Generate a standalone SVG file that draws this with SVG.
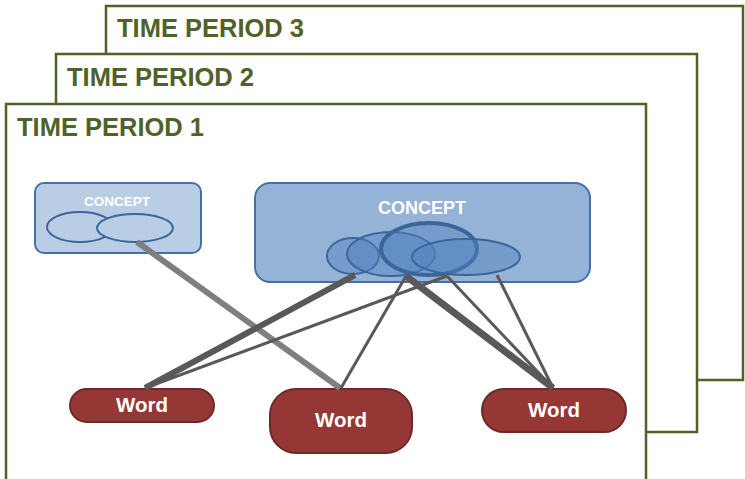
<svg xmlns="http://www.w3.org/2000/svg" width="745" height="479" viewBox="0 0 745 479">
<style>
.frame{fill:#ffffff;stroke:#4f6228;stroke-width:2.5}
.ftxt{font-family:"Liberation Sans",Arial,sans-serif;font-weight:bold;font-size:25.5px;fill:#4f6228}
.cbox{stroke:#4470a6;stroke-width:2}
.ell{fill:#4f81bd;fill-opacity:0.45;stroke:#3c6699;stroke-width:2}
.ell2{fill:#b9cde5;stroke:#3c6699;stroke-width:2}
.ctxt{font-family:"Liberation Sans",Arial,sans-serif;font-weight:bold;fill:#ffffff;text-anchor:middle}
.word{fill:#953735;stroke:#6e2a28;stroke-width:2}
.wtxt{font-family:"Liberation Sans",Arial,sans-serif;font-weight:bold;font-size:20.5px;fill:#ffffff;text-anchor:middle}
.ln{stroke:#595959;stroke-linecap:butt;fill:none}
</style>
<g id="period3">
<rect class="frame" x="106" y="6" width="637" height="374"/>
<text class="ftxt" x="117" y="37">TIME PERIOD 3</text>
</g>
<g id="period2">
<rect class="frame" x="56" y="54" width="641" height="378"/>
<text class="ftxt" x="67" y="86">TIME PERIOD 2</text>
</g>
<g id="period1">
<rect class="frame" x="6" y="104" width="640" height="390"/>
<text class="ftxt" x="17" y="136">TIME PERIOD 1</text>
</g>
<g id="concept-small">
<rect class="cbox" x="35" y="183" width="166" height="70" rx="9" fill="#b9cde5"/>
<text class="ctxt" x="117" y="206" font-size="13.5">CONCEPT</text>
<ellipse class="ell2" cx="80" cy="227" rx="33" ry="15"/>
<ellipse class="ell2" cx="135" cy="228" rx="38" ry="14"/>
</g>
<g id="concept-large">
<rect class="cbox" x="255" y="183" width="335" height="99" rx="15" fill="#95b3d7"/>
<text class="ctxt" x="422" y="214" font-size="18">CONCEPT</text>
<ellipse class="ell" cx="353" cy="256" rx="26" ry="18"/>
<ellipse class="ell" cx="391" cy="254" rx="44" ry="22"/>
<ellipse class="ell" cx="429" cy="249" rx="48" ry="26" style="stroke-width:4"/>
<ellipse class="ell" cx="466" cy="257" rx="54" ry="18"/>
</g>
<g id="word1">
<rect class="word" x="70" y="389" width="144" height="33" rx="16.5"/>
<text class="wtxt" x="142" y="412">Word</text>
</g>
<g id="word2">
<rect class="word" x="270" y="389" width="142" height="64" rx="26"/>
<text class="wtxt" x="341" y="427">Word</text>
</g>
<g id="word3">
<rect class="word" x="482" y="389" width="144" height="43" rx="21.5"/>
<text class="wtxt" x="554" y="417">Word</text>
</g>
<g id="connectors">
<line class="ln" x1="137" y1="242" x2="340" y2="388" style="stroke:#7f7f7f" stroke-width="6"/>
<line class="ln" x1="355" y1="275" x2="145" y2="388" stroke-width="6"/>
<line class="ln" x1="447" y1="276" x2="145" y2="388" stroke-width="3"/>
<line class="ln" x1="406" y1="276" x2="341" y2="388" stroke-width="3"/>
<line class="ln" x1="406" y1="276" x2="553" y2="388" stroke-width="7"/>
<line class="ln" x1="447" y1="276" x2="553" y2="388" stroke-width="3"/>
<line class="ln" x1="497" y1="275" x2="553" y2="388" stroke-width="3"/>
</g>
</svg>
